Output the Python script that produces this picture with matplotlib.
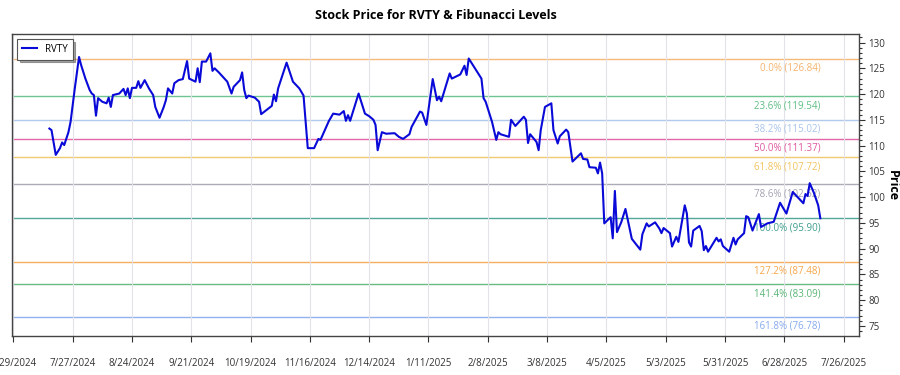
import matplotlib
matplotlib.use("Agg")
import matplotlib.pyplot as plt
import matplotlib.dates as mdates
from matplotlib.ticker import MultipleLocator, FuncFormatter
import pandas as pd

plt.rcParams['font.family'] = ['Open Sans', 'DejaVu Sans']

ticker = "RVTY"

dates = [
    "2024-07-16", "2024-07-17", "2024-07-19", "2024-07-21", "2024-07-22", "2024-07-23", "2024-07-25", "2024-07-26",
    "2024-07-28", "2024-07-30", "2024-07-31", "2024-08-02", "2024-08-04", "2024-08-05", "2024-08-06", "2024-08-07",
    "2024-08-08", "2024-08-10", "2024-08-12", "2024-08-13", "2024-08-14", "2024-08-15", "2024-08-18", "2024-08-20",
    "2024-08-21", "2024-08-22", "2024-08-23", "2024-08-24", "2024-08-26", "2024-08-27", "2024-08-28", "2024-08-30",
    "2024-09-01", "2024-09-03", "2024-09-04", "2024-09-06", "2024-09-08", "2024-09-09", "2024-09-10", "2024-09-12",
    "2024-09-13", "2024-09-15", "2024-09-17", "2024-09-19", "2024-09-20", "2024-09-23", "2024-09-24", "2024-09-25",
    "2024-09-26", "2024-09-28", "2024-09-30", "2024-10-01", "2024-10-02", "2024-10-04", "2024-10-08", "2024-10-10",
    "2024-10-11", "2024-10-14", "2024-10-15", "2024-10-16", "2024-10-17", "2024-10-18", "2024-10-21", "2024-10-23",
    "2024-10-24", "2024-10-29", "2024-10-30", "2024-10-31", "2024-11-01", "2024-11-05", "2024-11-08", "2024-11-11",
    "2024-11-13", "2024-11-15", "2024-11-18", "2024-11-19", "2024-11-20", "2024-11-21", "2024-11-25", "2024-11-27",
    "2024-11-30", "2024-12-02", "2024-12-03", "2024-12-04", "2024-12-05", "2024-12-09", "2024-12-11", "2024-12-12",
    "2024-12-14", "2024-12-16", "2024-12-17", "2024-12-18", "2024-12-20", "2024-12-22", "2024-12-26", "2024-12-28",
    "2024-12-30", "2025-01-02", "2025-01-03", "2025-01-07", "2025-01-08", "2025-01-10", "2025-01-13", "2025-01-15",
    "2025-01-16", "2025-01-17", "2025-01-21", "2025-01-22", "2025-01-26", "2025-01-28", "2025-01-29", "2025-01-30",
    "2025-02-05", "2025-02-06", "2025-02-07", "2025-02-10", "2025-02-12", "2025-02-13", "2025-02-14", "2025-02-18",
    "2025-02-19", "2025-02-21", "2025-02-25", "2025-02-26", "2025-02-27", "2025-02-28", "2025-03-03", "2025-03-04",
    "2025-03-05", "2025-03-07", "2025-03-10", "2025-03-11", "2025-03-13", "2025-03-14", "2025-03-17", "2025-03-18",
    "2025-03-20", "2025-03-24", "2025-03-25", "2025-03-27", "2025-03-28", "2025-03-31", "2025-04-01", "2025-04-02",
    "2025-04-03", "2025-04-04", "2025-04-07", "2025-04-08", "2025-04-09", "2025-04-10", "2025-04-12", "2025-04-14",
    "2025-04-17", "2025-04-21", "2025-04-22", "2025-04-24", "2025-04-25", "2025-04-28", "2025-04-30", "2025-05-01",
    "2025-05-02", "2025-05-05", "2025-05-06", "2025-05-08", "2025-05-09", "2025-05-12", "2025-05-13", "2025-05-14",
    "2025-05-15", "2025-05-16", "2025-05-19", "2025-05-20", "2025-05-21", "2025-05-22", "2025-05-23", "2025-05-27",
    "2025-05-28", "2025-05-29", "2025-05-30", "2025-06-02", "2025-06-04", "2025-06-05", "2025-06-06", "2025-06-09",
    "2025-06-10", "2025-06-11", "2025-06-13", "2025-06-16", "2025-06-17", "2025-06-20", "2025-06-23", "2025-06-26",
    "2025-06-29", "2025-07-02", "2025-07-07", "2025-07-08", "2025-07-09", "2025-07-10", "2025-07-12", "2025-07-14",
    "2025-07-15",
]

prices = [
    113.3, 113.0, 108.2, 109.5, 110.6, 110.1, 112.6, 114.6,
    121.1, 127.2, 125.6, 123.0, 120.8, 120.1, 119.8, 115.8,
    119.2, 118.5, 118.2, 119.3, 117.5, 119.8, 120.1, 121.0,
    119.8, 121.1, 119.2, 121.2, 121.2, 122.5, 121.2, 122.7,
    121.1, 119.8, 117.5, 115.4, 117.5, 118.8, 121.1, 120.1,
    122.1, 122.7, 122.9, 126.4, 123.0, 122.4, 125.0, 122.3,
    126.3, 126.3, 127.9, 124.5, 125.0, 124.2, 122.4, 120.1,
    121.4, 122.7, 124.2, 120.8, 119.2, 119.7, 119.3, 118.5,
    116.1, 117.7, 119.9, 118.6, 121.1, 126.1, 122.4, 121.1,
    119.7, 109.5, 109.5, 110.4, 111.3, 111.1, 114.8, 116.2,
    116.0, 116.7, 114.8, 115.9, 114.8, 120.1, 117.5, 116.2,
    115.7, 115.0, 114.0, 109.1, 112.6, 112.3, 112.4, 111.7,
    111.3, 112.2, 113.6, 116.6, 116.4, 114.0, 122.9, 118.8,
    119.5, 118.6, 124.0, 123.0, 123.8, 125.5, 123.7, 126.9,
    123.0, 119.2, 118.5, 114.6, 111.1, 112.6, 112.2, 111.7,
    115.0, 113.8, 115.6, 115.0, 110.5, 112.2, 110.7, 109.1,
    113.0, 117.5, 118.2, 113.0, 110.4, 111.8, 113.1, 112.6,
    106.9, 108.5, 107.4, 107.3, 105.8, 105.7, 104.6, 106.7,
    104.6, 94.9, 96.1, 92.0, 101.2, 93.2, 95.1, 97.7,
    91.9, 89.8, 92.8, 94.9, 94.3, 95.1, 93.9, 93.0,
    94.0, 93.0, 90.4, 92.3, 91.3, 98.4, 96.8, 91.2,
    90.4, 93.5, 94.4, 93.4, 89.7, 90.5, 89.4, 92.1,
    91.4, 91.8, 90.5, 89.4, 92.1, 90.8, 91.8, 93.0,
    96.3, 96.1, 93.5, 96.7, 94.2, 94.9, 95.2, 98.9,
    96.8, 101.0, 98.8, 100.6, 100.2, 102.7, 100.8, 98.4,
    95.9,
]

fib_names = ["0.0%", "23.6%", "38.2%", "50.0%", "61.8%", "78.6%", "100.0%", "127.2%", "141.4%", "161.8%"]
fib_values = [126.84, 119.54, 115.02, 111.37, 107.72, 102.52, 95.90, 87.48, 83.09, 76.78]
fib_colors = ["#f5b26b", "#5fbf85", "#a8c4ea", "#e0569f", "#f2c35e",
              "#a3a3b0", "#3f9e8e", "#f5a64a", "#58b575", "#85aaee"]

x = pd.to_datetime(dates)

fig = plt.figure(figsize=(9, 3.75), dpi=100)
ax = fig.add_axes([0.0133, 0.104, 0.941, 0.805])

for name, val, col in zip(fib_names, fib_values, fib_colors):
    ax.axhline(val, color=col, lw=1.0, alpha=0.9, zorder=1)
    ax.annotate(f"{name} ({val:.2f})", xy=(x[-1], val), xytext=(0, -3),
                textcoords="offset points", ha="right", va="top",
                fontsize=7, color=col, zorder=2)

ax.plot(x, prices, color="#0a0ad8", lw=1.5, label=ticker, zorder=3)

ticks = pd.date_range("2024-06-29", periods=15, freq="28D")
ax.set_xticks(ticks)
ax.xaxis.set_major_formatter(FuncFormatter(
    lambda v, p: (lambda d: f"{d.month}/{d.day}/{d.year}")(mdates.num2date(v))))
ax.set_xlim(pd.Timestamp("2024-06-28 08:00"), pd.Timestamp("2025-08-02 05:00"))
ax.set_ylim(73.04, 131.63)

ax.yaxis.tick_right()
ax.yaxis.set_label_position("right")
ax.yaxis.set_major_locator(MultipleLocator(5))
ax.yaxis.set_minor_locator(MultipleLocator(1))
ax.set_ylabel("Price", rotation=270, fontsize=9, fontweight="bold", va="center")
ax.yaxis.set_label_coords(1.04, 0.5)

ax.tick_params(axis="x", length=4, width=0.8, pad=12, labelsize=7, colors="#333333")
ax.tick_params(axis="y", which="major", length=4, width=0.8, pad=3, labelsize=7, colors="#333333")
ax.tick_params(axis="y", which="minor", length=2, width=0.8, colors="#333333")

ax.grid(axis="x", color="#e2e2e8", lw=0.8, zorder=0)
for s in ax.spines.values():
    s.set_color("#444444")
    s.set_linewidth(1.0)

ax.set_title("Stock Price for RVTY & Fibunacci Levels", fontsize=9, fontweight="bold", pad=11)

leg = ax.legend(loc="upper left", fontsize=7, fancybox=False, shadow=True,
                borderpad=0.5, handlelength=1.6, bbox_to_anchor=(0.0, 1.0))
leg.get_frame().set_edgecolor("#555555")
leg.get_frame().set_linewidth(0.8)

fig.savefig("out.png", dpi=100)
